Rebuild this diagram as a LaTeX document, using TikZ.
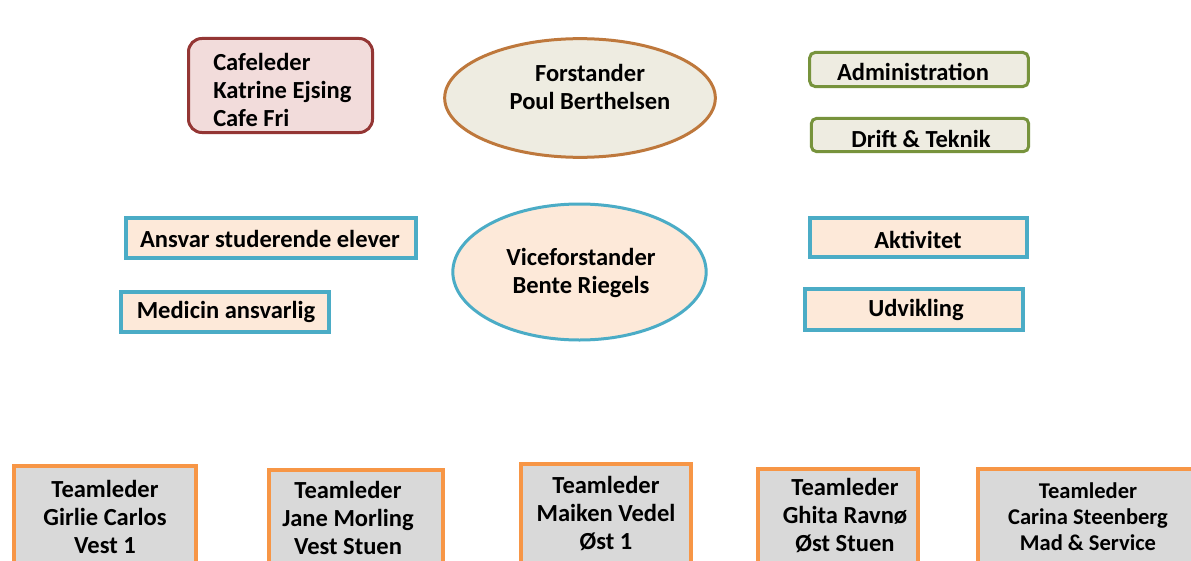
\documentclass[tikz,border=0pt]{standalone}
\usepackage{fontspec}
\setmainfont{Carlito}
\usetikzlibrary{shapes.geometric}
\definecolor{cafefill}{HTML}{F2DCDB}
\definecolor{cafedraw}{HTML}{943634}
\definecolor{beige}{HTML}{EEECE1}
\definecolor{brown}{RGB}{190,120,60}
\definecolor{olive}{HTML}{77933C}
\definecolor{aqua}{HTML}{4BACC6}
\definecolor{peach}{HTML}{FDE9D9}
\definecolor{orangeb}{HTML}{F79646}
\definecolor{greyf}{HTML}{D9D9D9}
\begin{document}
\begin{tikzpicture}[x=0.75pt,y=-0.75pt,
  txt/.style={font=\bfseries\fontsize{18.4}{21}\selectfont, align=center, inner sep=0pt},
  smalltxt/.style={font=\bfseries\fontsize{16.9}{19.5}\selectfont, align=center, inner sep=0pt},
  shp/.style={inner sep=0pt, outer sep=0pt},
  cafebox/.style={shp, rectangle, rounded corners=10pt, draw=cafedraw, fill=cafefill, line width=2.25pt},
  topell/.style={shp, ellipse, draw=brown, fill=beige, line width=2.25pt},
  greenbox/.style={shp, rectangle, rounded corners=4pt, draw=olive, fill=beige, line width=2.25pt},
  bluebox/.style={shp, rectangle, draw=aqua, fill=peach, line width=3pt},
  blueell/.style={shp, ellipse, draw=aqua, fill=peach, line width=2.25pt},
  teambox/.style={shp, rectangle, draw=orangeb, fill=greyf, line width=3pt}]
\useasboundingbox (0,0) rectangle (1191,560);
\clip (0,0) rectangle (1191,560);
\fill[white] (0,0) rectangle (1191,560);

% top row
\node[cafebox, minimum width=138pt, minimum height=70.5pt] (cafe) at (280.5,85.5) {};
\node[txt, align=left, anchor=west] (cafeT) at (213,90) {Cafeleder\\Katrine Ejsing\\Cafe Fri};

\node[topell, minimum width=203pt, minimum height=89pt] (forst) at (580,98) {};
\node[txt] (forstT) at (590,87) {Forstander\\Poul Berthelsen};

\node[greenbox, minimum width=164pt, minimum height=25.5pt] (admin) at (919,69.5) {};
\node[txt] (adminT) at (913,72) {Administration};

\node[greenbox, minimum width=163pt, minimum height=25pt] (drift) at (920,135) {};
\node[txt] (driftT) at (921,139) {Drift \& Teknik};

% middle row
\node[bluebox, minimum width=217.5pt, minimum height=30pt] (ansvar) at (271,238) {};
\node[txt] (ansvarT) at (270,239) {Ansvar studerende elever};

\node[bluebox, minimum width=156pt, minimum height=30pt] (medicin) at (225,312) {};
\node[txt] (medicinT) at (226,312) {Medicin ansvarlig};

\node[blueell, minimum width=190pt, minimum height=102pt] (vice) at (579.5,272) {};
\node[txt] (viceT) at (581,273) {Viceforstander\\Bente Riegels};

\node[bluebox, minimum width=163pt, minimum height=29pt] (akt) at (918.5,237.5) {};
\node[txt] (aktT) at (918,240) {Aktivitet};

\node[bluebox, minimum width=163.5pt, minimum height=31pt] (udv) at (914,309.5) {};
\node[txt] (udvT) at (916,310) {Udvikling};

% bottom row
\node[teambox, minimum width=136.5pt, minimum height=115.5pt] (t1) at (105,543) {};
\node[txt] (t1T) at (105,517) {Teamleder\\Girlie Carlos\\Vest 1};

\node[teambox, minimum width=130.5pt, minimum height=112.5pt] (t2) at (356,545) {};
\node[txt] (t2T) at (348,518) {Teamleder\\Jane Morling\\Vest Stuen};

\node[teambox, minimum width=127.5pt, minimum height=117pt] (t3) at (606,542) {};
\node[txt] (t3T) at (606,514) {Teamleder\\Maiken Vedel\\Øst 1};

\node[teambox, minimum width=120pt, minimum height=113pt] (t4) at (838,544.5) {};
\node[txt] (t4T) at (845,516) {Teamleder\\Ghita Ravnø\\Øst Stuen};

\node[teambox, minimum width=181.5pt, minimum height=113pt] (t5) at (1099,544.5) {};
\node[smalltxt] (t5T) at (1088,517) {Teamleder\\Carina Steenberg\\Mad \& Service};
\end{tikzpicture}
\end{document}
